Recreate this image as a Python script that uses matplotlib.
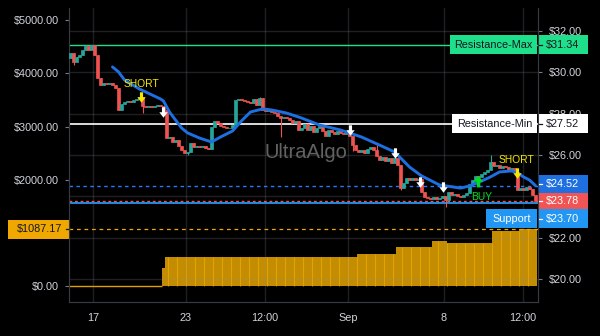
import numpy as np
import matplotlib.pyplot as plt
from matplotlib.patches import Rectangle
from matplotlib.path import Path
from matplotlib.transforms import blended_transform_factory

plt.rcParams['font.family'] = ['Liberation Sans', 'DejaVu Sans']

# closing price of every candle
closes = [
    30.94, 30.50, 30.74, 30.84, 31.08, 31.27, 31.08, 31.32, 30.84, 29.73,
    29.39, 29.48, 29.44, 29.48, 29.39, 29.24, 28.18, 28.47, 28.57, 28.61,
    28.57, 28.66, 28.71, 28.81, 28.37, 28.32, 28.37, 28.32, 28.37, 28.42,
    28.37, 28.18, 26.82, 26.87, 26.63, 26.73, 26.44, 26.24, 26.10, 26.15,
    26.58, 26.39, 26.44, 26.39, 26.44, 26.34, 26.29, 27.36, 27.65, 27.55,
    27.40, 27.36, 27.31, 27.31, 27.45, 28.66, 28.71, 28.66, 28.61, 28.57,
    28.52, 28.71, 28.42, 28.76, 28.18, 28.13, 28.18, 28.08, 28.03, 27.89,
    27.79, 27.84, 27.79, 27.69, 27.55, 27.65, 27.21, 27.31, 27.50, 27.21,
    27.40, 27.11, 27.31, 27.40, 27.16, 26.92, 27.21, 27.11, 27.02, 27.16,
    27.07, 27.02, 27.11, 26.92, 26.48, 26.24, 26.15, 26.24, 26.10, 26.29,
    26.39, 26.24, 25.95, 25.76, 25.90, 25.71, 25.86, 25.61, 25.86, 25.52,
    24.40, 24.65, 24.89, 24.79, 24.89, 24.79, 24.84, 24.21, 23.97, 23.92,
    23.87, 23.97, 23.87, 23.92, 24.02, 23.82, 24.21, 24.07, 24.11, 24.02,
    23.97, 24.07, 24.16, 24.60, 24.79, 24.98, 24.94, 25.08, 25.18, 25.28,
    25.66, 25.47, 25.52, 25.37, 25.47, 25.42, 25.28, 25.37, 25.18, 24.31,
    24.40, 24.31, 24.45, 24.36, 24.05, 23.78,
]
first_open = 30.70
# long wicks  {candle: price}
wick_low = {1: 30.35, 24: 28.03, 39: 26.00, 70: 26.87, 94: 26.20, 110: 24.31, 125: 23.49}
wick_high = {5: 31.34, 63: 28.81, 102: 26.58, 140: 26.00}

# trend line (candle index, price)
ma_idx = [14, 16, 18, 23, 30, 31, 33, 37, 39, 43, 47, 50, 54, 57, 60, 64, 67, 72, 77,
          83, 90, 97, 103, 108, 110, 113, 117, 123, 130, 133, 137, 140, 143, 147,
          149, 151, 153, 155]
ma_val = [30.26, 30.02, 29.63, 29.19, 28.71, 28.61, 28.08, 27.31, 27.07, 26.82, 26.63,
          26.87, 27.16, 27.65, 28.08, 28.23, 28.18, 28.03, 27.79, 27.45, 27.21, 26.87,
          26.48, 26.15, 25.86, 25.42, 24.99, 24.55, 24.40, 24.50, 24.74, 24.94, 25.18,
          25.23, 25.13, 24.94, 24.79, 24.52]

# running total on the left scale, as (number of candles, level)
hist_runs = [31, 1, 64, 13, 12, 5, 15, 9, 6]
hist_levels = [0, 347, 553, 610, 741, 854, 816, 1041, 1087.17]

resist_max = 31.34
resist_min = 27.52
support = 23.70
last_price = 23.78
ma_last = 24.52

# signals
short_idx = [23.5, 148.8]
short_y = [28.81, 25.13]
exit_idx = [30.8, 93.2, 108.2, 116.5, 124.2]
exit_y = [28.08, 27.21, 26.10, 24.69, 24.45]
buy_idx = [135.8]
buy_y = [24.74]

xtick_pos = [7.5, 38.5, 64.8, 92.5, 124.5, 150.8]
xtick_lab = ['17', '23', '12:00', 'Sep', '8', '12:00']

UP = '#26a69a'
DOWN = '#ef5350'
GRID = '#8c8ca0'
GRID_A = 0.22
TXT = '#d1d4dc'

fig = plt.figure(figsize=(6, 3.36), dpi=100, facecolor='black')
ax_vol = fig.add_axes([69 / 600, 34 / 336, 469 / 600, 294 / 336])
ax_vol.set_facecolor('black')
ax = ax_vol.twinx()

n = len(closes)
x = np.arange(n)
ax_vol.set_xlim(-0.5, 155.83)
ax_vol.set_ylim(-291, 5225)
ax.set_ylim(18.89, 33.11)

# histogram on the left scale
vals = np.repeat(hist_levels, hist_runs)
ax_vol.bar(x, vals, width=1.0, color='#c48c00', lw=0, zorder=2)
ax_vol.hlines(0, -0.5, hist_runs[0] - 0.5, color='#e0a000', lw=1, zorder=2)
sep = np.arange(3, n, 3) - 0.4
sep_h = [min(vals[int(np.floor(s))], vals[int(np.ceil(s))]) for s in sep]
ax_vol.vlines(sep, 0, sep_h, color='#eaa800', lw=0.8, alpha=0.8, zorder=3)
ax_vol.axhline(1087.17, color='#f0a800', lw=0.9, ls=(0, (3, 3)), zorder=3)

# grid
ax.set_yticks(np.arange(20, 33, 2))
for p in np.arange(20, 33, 2):
    ax.axhline(p, color=GRID, alpha=GRID_A, lw=1, zorder=0.5)
for p in xtick_pos:
    ax.axvline(p, color=GRID, alpha=GRID_A, lw=1, zorder=0.5)

ax.text(0.505, 0.507, 'UltraAlgo', transform=ax.transAxes, ha='center', va='center',
        fontsize=14.5, color='#626262', zorder=1)

# level lines
ax.axhline(resist_max, color='#1fe08a', lw=1, zorder=2)
ax.axhline(resist_min, color='white', lw=1.2, zorder=2)
ax.axhline(ma_last, color='#2979ff', lw=1, ls=(0, (2.5, 2.5)), zorder=2)
ax.axhline(support, color='#2196f3', lw=1.3, zorder=2)
ax.axhline(last_price, color=DOWN, lw=1, ls=(0, (2, 2)), zorder=2)

# candles
opens = [first_open] + closes[:-1]
for i, (o, c) in enumerate(zip(opens, closes)):
    col = UP if c >= o else DOWN
    lo = wick_low.get(i, min(o, c))
    hi = wick_high.get(i, max(o, c))
    ax.vlines(i, lo, hi, color=col, lw=0.8, zorder=3)
    ax.bar(i, c - o, bottom=o, width=0.75, color=col, edgecolor=col, lw=0.5, zorder=3)

ax.plot(ma_idx, ma_val, color='#1e6fe0', lw=2.1, zorder=4, solid_capstyle='round')

# arrow markers
arrow_down = Path([(-0.3, 1.0), (0.3, 1.0), (0.3, 0.05), (0.8, 0.05), (0.0, -1.0),
                   (-0.8, 0.05), (-0.3, 0.05), (-0.3, 1.0)],
                  [Path.MOVETO] + [Path.LINETO] * 6 + [Path.CLOSEPOLY])
arrow_up = Path(arrow_down.vertices * [1, -1], arrow_down.codes)

ax.plot(exit_idx, exit_y, ls='none', marker=arrow_down, ms=7.5, color='white', mec='none', zorder=5)
ax.plot(short_idx, short_y, ls='none', marker=arrow_down, ms=7.5, color='#f5e800', mec='none', zorder=5)
ax.plot(buy_idx, buy_y, ls='none', marker=arrow_up, ms=8.5, color='#00dd20', mec='none', zorder=5)
for xi, yi in zip(short_idx, short_y):
    ax.annotate('SHORT', (xi, yi), xytext=(0, 9.5), textcoords='offset points', ha='center',
                va='center', fontsize=7.4, color='#f5e800', zorder=6)
for xi, yi in zip(buy_idx, buy_y):
    ax.annotate('BUY', (xi, yi), xytext=(3, -11.5), textcoords='offset points', ha='center',
                va='center', fontsize=7.4, color='#00dd20', zorder=6)

# axes styling
for a in (ax_vol, ax):
    for s in a.spines.values():
        s.set_color('#363a45')
    a.spines['top'].set_visible(False)
ax.spines['right'].set_zorder(8)

# labels hidden behind the price tags are left blank
left_ticks = [0, 1000, 2000, 3000, 4000, 5000]
ax_vol.set_yticks(left_ticks)
ax_vol.set_yticklabels(['' if v == 1000 else '$%.2f' % v for v in left_ticks])
ax.set_yticklabels(['' if v == 24 else '$%.2f' % v for v in np.arange(20, 33, 2)])
ax_vol.tick_params(axis='y', colors=TXT, labelsize=7.8, length=3, pad=4)
ax_vol.tick_params(axis='y', color='#787b86')
ax.tick_params(axis='y', colors=TXT, labelsize=7.8, length=3, pad=5)
ax.tick_params(axis='y', color='#787b86')
ax_vol.set_xticks(xtick_pos)
ax_vol.set_xticklabels(xtick_lab)
ax_vol.tick_params(axis='x', colors=TXT, labelsize=7.8, length=0, pad=8)


def px_units(a):
    y0, y1 = a.get_ylim()
    return (y1 - y0) / (a.get_position().height * fig.get_figheight() * fig.dpi)


def tag(a, y, text, fc, tc, x0, x1, shift_px=0, half_px=9.2, ha='left', tx=None, tick=None):
    tr = blended_transform_factory(a.transAxes, a.transData)
    u = px_units(a)
    yc = y - shift_px * u
    a.add_patch(Rectangle((x0, yc - half_px * u), x1 - x0, 2 * half_px * u, transform=tr,
                          fc=fc, ec='none', clip_on=False, zorder=7))
    if tx is None:
        tx = (x0 + x1) / 2
    a.text(tx, yc, text, transform=tr, ha=ha, va='center', fontsize=7.8, color=tc,
           zorder=8, clip_on=False)
    if tick is not None:
        a.plot(tick, [yc, yc], transform=tr, color=tc, lw=0.9, clip_on=False, zorder=8)


W = 469.0
R0, R1 = 1.0 + 1 / W, 1.0 + 50 / W
rt = [1.0 + 1 / W, 1.0 + 4 / W]
tag(ax, resist_max, 'Resistance-Max', '#1fe08a', '#131722', 381 / W, 468 / W, ha='center')
tag(ax, resist_max, '$%.2f' % resist_max, '#1fe08a', '#131722', R0, R1, tx=1 + 8 / W, tick=rt)
tag(ax, resist_min, 'Resistance-Min', 'white', '#131722', 383 / W, 468 / W, ha='center')
tag(ax, resist_min, '$%.2f' % resist_min, 'white', '#131722', R0, R1, tx=1 + 8 / W, tick=rt)
tag(ax, ma_last, '$%.2f' % ma_last, '#1e6fe0', 'white', R0, R1, shift_px=-1.2, tx=1 + 8 / W, tick=rt)
tag(ax, last_price, '$%.2f' % last_price, '#f05454', 'white', R0, R1, half_px=8, tx=1 + 8 / W, tick=rt)
tag(ax, support, 'Support', '#2196f3', 'white', 417 / W, 468 / W, shift_px=16.3, half_px=9.5, ha='center')
tag(ax, support, '$%.2f' % support, '#2196f3', 'white', R0, R1, shift_px=16.3, half_px=9.5,
    tx=1 + 8 / W, tick=rt)
tag(ax_vol, 1087.17, '$1087.17', '#f0a800', '#131722', -61 / W, 0, shift_px=0.9,
    ha='right', tx=-7 / W, tick=[-3 / W, 0])

fig.savefig('out.png', dpi=100, facecolor='black')
